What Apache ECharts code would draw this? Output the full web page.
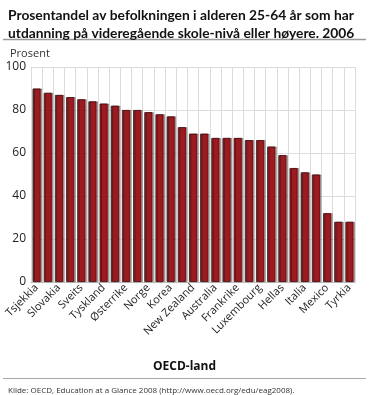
<!DOCTYPE html>
<html><head><meta charset="utf-8">
<script src="https://cdn.jsdelivr.net/npm/echarts@6/dist/echarts.min.js"></script>
<style>html,body{margin:0;padding:0;background:#fff}#c{width:369px;height:395px}</style>
</head><body><div id="c"></div>
<script>
const categories = ['Tsjekkia','USA','Slovakia','Sverige','Sveits','Canada','Tyskland','Danmark','Østerrike','Finland','Norge','Ungarn','Korea','Nederland','New Zealand','Storbritannia','Australia','Belgia','Frankrike','Irland','Luxembourg','Island','Hellas','Polen','Italia','Spania','Mexico','Portugal','Tyrkia'];
const values = [90,88,87,86,85,84,83,82,80,80,79,78,77,72,69,69,67,67,67,66,66,63,59,53,51,50,32,28,28];
const yTicks = [0,20,40,60,80,100];
const titleLines = ['Prosentandel av befolkningen i alderen 25-64 år som har','utdanning på videregående skole-nivå eller høyere. 2006'];
const yName = 'Prosent';
const xName = 'OECD-land';
const source = 'Kilde: OECD, Education at a Glance 2008 (http://www.oecd.org/edu/eag2008).';

const chart = echarts.init(document.getElementById('c'));
const F = 'Open Sans';
chart.setOption({
  animation: false,
  textStyle: {fontFamily: F},
  title: [
    {text: titleLines.join('\n'), left: 3, top: 2, textStyle: {fontSize: 13.8, fontWeight: 'bold', color: '#111', lineHeight: 18, fontFamily: 'Lato'}},
    {text: yName, left: 5, top: 43, textStyle: {fontSize: 11, fontWeight: 'normal', color: '#333', fontFamily: F}},
    {text: xName, left: 'center', top: 356, textStyle: {fontSize: 12, fontWeight: 'bold', color: '#111', fontFamily: F}},
    {text: source, left: 3, top: 382, textStyle: {fontSize: 8, fontWeight: 'normal', color: '#333', fontFamily: F}}
  ],
  graphic: [
    {type: 'line', shape: {x1: 3, y1: 39.5, x2: 366, y2: 39.5}, style: {stroke: '#9a9a9a', lineWidth: 1.5}},
    {type: 'line', shape: {x1: 3, y1: 378.5, x2: 366, y2: 378.5}, style: {stroke: '#aaaaaa', lineWidth: 1}}
  ],
  grid: {left: 31, right: 14, top: 67, bottom: 113, containLabel: false},
  xAxis: {
    type: 'category', data: categories,
    axisLine: {show: true, lineStyle: {color: '#bbbbbb', width: 1}},
    axisTick: {show: false},
    splitLine: {show: true, interval: 0, lineStyle: {color: '#dcdcdc'}},
    axisLabel: {interval: 1, rotate: 45, fontSize: 11, color: '#222', margin: 4, fontFamily: F}
  },
  yAxis: {
    type: 'value', min: yTicks[0], max: yTicks[yTicks.length-1], interval: 20,
    axisLine: {show: true, lineStyle: {color: '#dcdcdc'}},
    axisTick: {show: false},
    splitLine: {lineStyle: {color: '#dcdcdc'}},
    axisLabel: {fontSize: 12, color: '#222', margin: 5, fontFamily: F}
  },
  series: [{
    type: 'bar', data: values, barCategoryGap: '28%',
    itemStyle: {color: '#9a1b20', borderColor: '#4a0e10', borderWidth: 0.8,
      shadowColor: 'rgba(0,0,0,0.35)', shadowOffsetX: 1.5, shadowOffsetY: 0, shadowBlur: 0}
  }]
});
</script></body></html>
